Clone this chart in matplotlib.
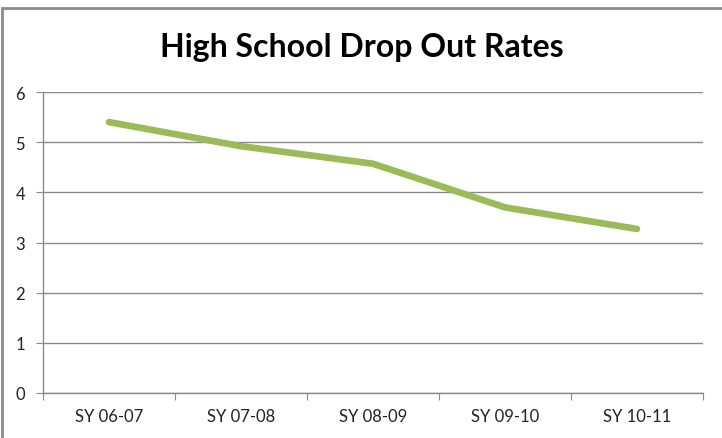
import matplotlib
matplotlib.use("Agg")
import matplotlib.pyplot as plt
from matplotlib.patches import Rectangle

categories = ["SY 06-07", "SY 07-08", "SY 08-09", "SY 09-10", "SY 10-11"]
rates = [5.4, 4.92, 4.57, 3.7, 3.27]
y_ticks = [0, 1, 2, 3, 4, 5, 6]
title = "High School Drop Out Rates"

W, H = 722, 439
fig = plt.figure(figsize=(W / 100, H / 100), dpi=100)
plt.rcParams['font.family'] = ['Lato', 'DejaVu Sans']

# chart border
fig.patches.append(Rectangle((2 / W, -0.1), 1.2, 1 - 9 / H + 0.1, transform=fig.transFigure,
                             fill=False, edgecolor="#8c8c8c", linewidth=2))

ax = fig.add_axes([43 / W, 1 - 394 / H, (703 - 43) / W, (394 - 93) / H])
x = list(range(len(categories)))
ax.plot(x, rates, color="#9BBB59", linewidth=4.8, solid_capstyle="round",
        solid_joinstyle="round", zorder=3)

ax.set_xlim(-0.5, len(categories) - 0.5)
ax.set_ylim(0, 6)
ax.set_yticks(y_ticks)
ax.set_yticklabels([str(v) for v in y_ticks], fontsize=12, color="#222222")
ax.grid(axis="y", color="#8a8a8a", linewidth=1)
ax.set_axisbelow(True)

ax.set_xticks([i - 0.5 for i in range(len(categories) + 1)])
ax.set_xticklabels([])
ax.set_xticks(x, minor=True)
ax.set_xticklabels(categories, minor=True, fontsize=12, color="#222222")
ax.tick_params(axis="x", which="major", length=5, color="#8a8a8a", direction="out")
ax.tick_params(axis="x", which="minor", length=0, pad=11)
ax.tick_params(axis="y", length=5, color="#8a8a8a", pad=8)

for s in ["top", "right"]:
    ax.spines[s].set_visible(False)
for s in ["left", "bottom"]:
    ax.spines[s].set_color("#8a8a8a")
    ax.spines[s].set_linewidth(1)

fig.text(362 / W, 1 - 57 / H, title, ha="center", va="baseline",
         fontsize=23, fontweight="bold", color="#000000")

fig.savefig("out.png", dpi=100)
